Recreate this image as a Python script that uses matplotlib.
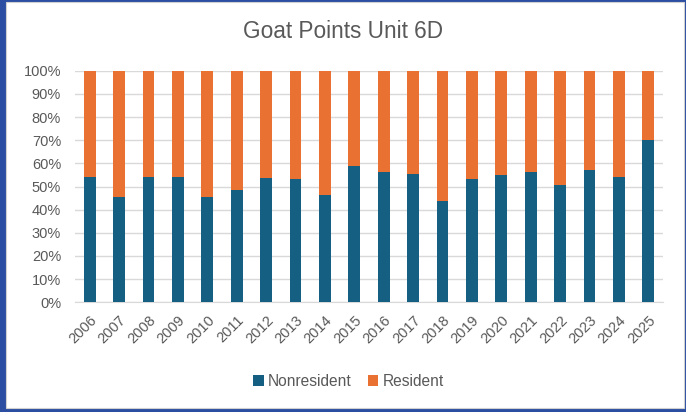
import numpy as np
from matplotlib import pyplot as plt
from matplotlib.patches import Rectangle

# Data (percent of goat points)
years = [str(y) for y in range(2006, 2026)]
nonresident = [54.2, 45.3, 54.2, 54.2, 45.3, 48.5, 53.5, 53.1, 46.5, 58.9,
               56.1, 55.4, 43.7, 53.1, 55.0, 56.1, 50.6, 57.0, 54.2, 69.9]
resident = [100 - v for v in nonresident]

blue = '#156082'
orange = '#E97132'
grey_text = '#595959'
grid_col = '#D9D9D9'

plt.rcParams['font.family'] = ['Liberation Sans', 'DejaVu Sans']

fig = plt.figure(figsize=(6.86, 4.12), dpi=100, facecolor='#2B4EA2')
# white chart area inside the blue frame
fig.patches.append(Rectangle((6 / 686, 4 / 412), 678 / 686, 406 / 412,
                             transform=fig.transFigure, facecolor='white',
                             edgecolor='#D0D0D0', linewidth=0.8, zorder=0))

ax = fig.add_axes([75 / 686, 1 - 302.3 / 412, 588 / 686, 231.6 / 412])
ax.set_facecolor('none')
ax.set_zorder(2)

x = np.arange(len(years))
ax.bar(x, nonresident, width=0.4, color=blue, label='Nonresident', zorder=3)
ax.bar(x, resident, width=0.4, bottom=nonresident, color=orange,
       label='Resident', zorder=3)

ax.set_xlim(-0.5, len(years) - 0.5)
ax.set_ylim(0, 100)
ax.set_yticks(np.arange(0, 101, 10))
ax.set_yticklabels([f'{v}%' for v in range(0, 101, 10)])
ax.set_xticks(x)
ax.set_xticklabels(years, rotation=45, ha='right', va='top',
                   rotation_mode='anchor')

ax.tick_params(axis='both', length=0, labelsize=10.5, colors=grey_text)
ax.tick_params(axis='y', pad=10)
ax.tick_params(axis='x', pad=8)
ax.yaxis.grid(True, color=grid_col, linewidth=1.0, zorder=0)
ax.set_axisbelow(True)
for side in ['top', 'right', 'left']:
    ax.spines[side].set_visible(False)
ax.spines['bottom'].set_color(grid_col)

fig.text(0.5, 1 - 31 / 412, 'Goat Points Unit 6D', ha='center', va='center',
         fontsize=16.3, color=grey_text)

leg = fig.legend(loc='center', bbox_to_anchor=(0.508, 1 - 381 / 412), ncol=2,
                 frameon=False, fontsize=11.2, labelcolor=grey_text,
                 handlelength=0.7, handleheight=0.7, handletextpad=0.25,
                 columnspacing=1.0)
leg.set_zorder(3)

plt.savefig('out.png', dpi=100, facecolor=fig.get_facecolor())
